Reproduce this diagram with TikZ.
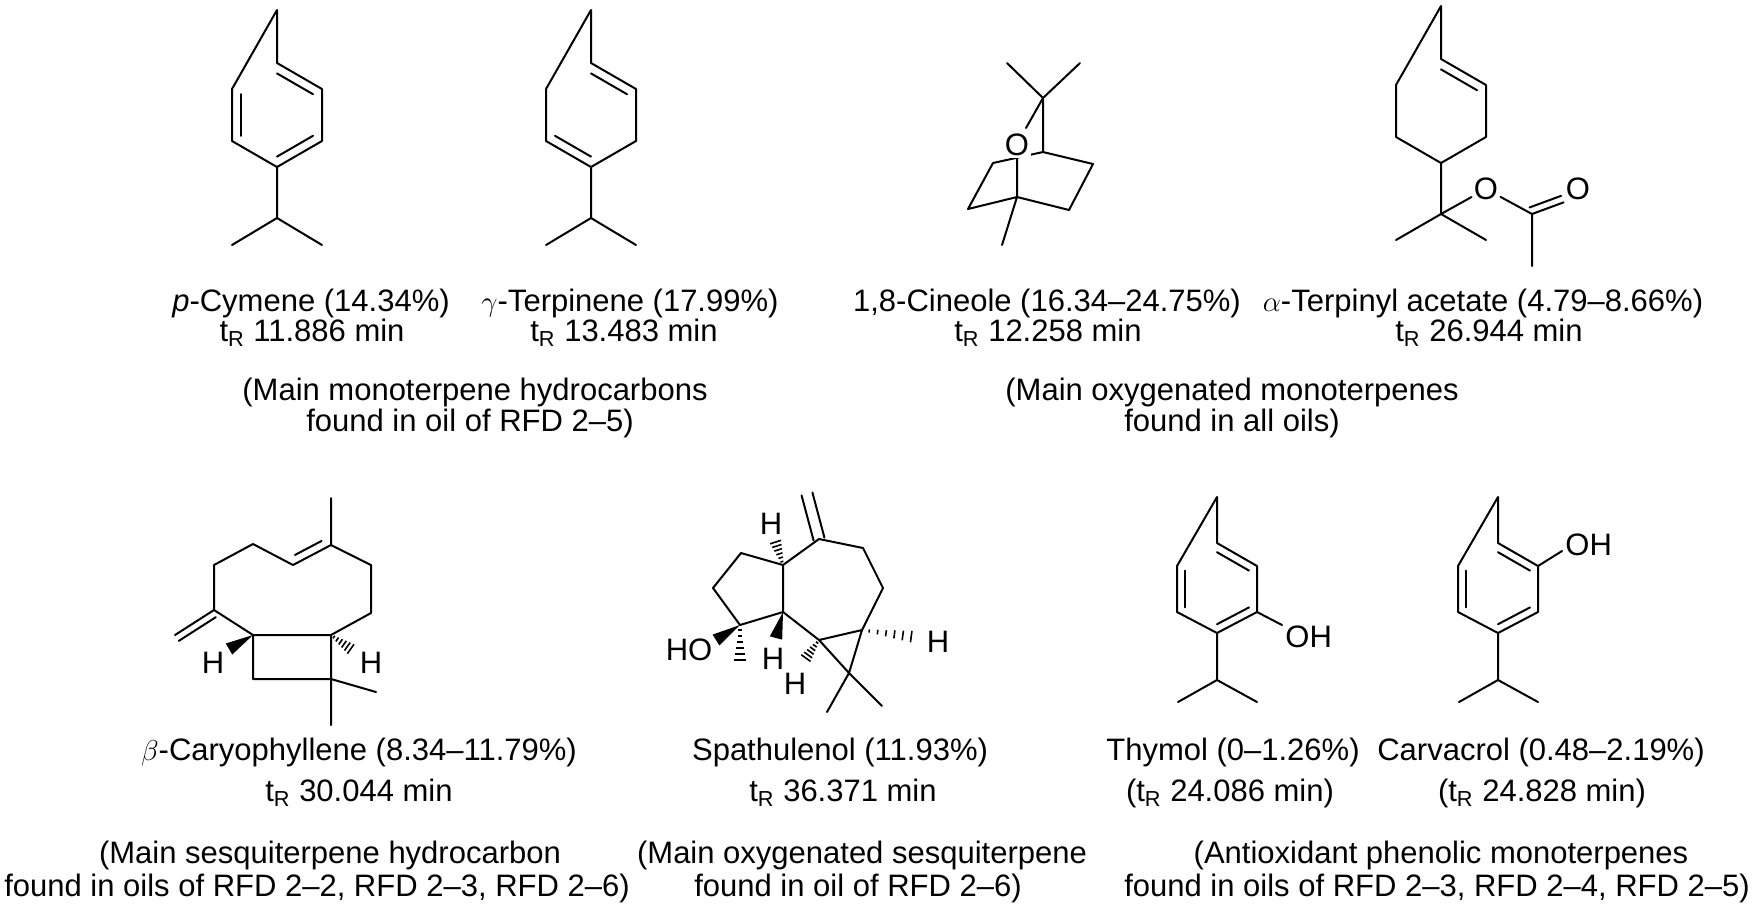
\documentclass[tikz,border=0pt]{standalone}
\usepackage{fontspec}
\setmainfont{Liberation Sans}
\usetikzlibrary{calc}
\tikzset{
  bond/.style={line width=1pt, line cap=round, line join=round},
  lbl/.style={font=\fontsize{15.5}{18}\selectfont, inner sep=0pt},
  atom/.style={font=\fontsize{15.5}{18}\selectfont, inner sep=1pt, fill=white},
}
\newcommand{\innerbond}[3]{\draw[bond] ($(#1)!0.2!(#3)$) -- ($(#2)!0.2!(#3)$);}
\newcommand{\dblside}[3]{\draw[bond] ($(#1)!0.15!(#2)!#3!90:(#2)$) -- ($(#2)!0.15!(#1)!#3!-90:(#1)$);}
\newcommand{\wedgebond}[2]{\fill ($(#1)$) -- ($(#2)!3.2pt!90:(#1)$) -- ($(#2)!3.2pt!-90:(#1)$) -- cycle;}
\newcommand{\hashbond}[2]{\foreach \t in {0.12,0.26,...,0.95}{\pgfmathsetmacro{\hl}{0.4+3*\t}\draw[line width=0.8pt] ($(#1)!\t!(#2)!\hl pt!90:(#2)$) -- ($(#1)!\t!(#2)!\hl pt!-90:(#2)$);}}
\begin{document}
\begin{tikzpicture}[x=0.5pt,y=-0.5pt]
\useasboundingbox (0,0) rectangle (1755,923);
% ---------- p-cymene
\begin{scope}[shift={(277,0)}]
\coordinate (cm0) at (0,10); \coordinate (c1) at (0,63); \coordinate (c2) at (45,89);
\coordinate (c3) at (45,141); \coordinate (c4) at (0,167); \coordinate (c5) at (-45,141);
\coordinate (c6) at (-45,89); \coordinate (cc) at (0,115); \coordinate (cb) at (0,218);
\coordinate (cl) at (-45,245); \coordinate (cr) at (45,245);
\end{scope}
\draw[bond] (cm0)--(c1)--(c2)--(c3)--(c4)--(c5)--(c6)--cycle (c4)--(cb)--(cl) (cb)--(cr);
\innerbond{c1}{c2}{cc}\innerbond{c3}{c4}{cc}\innerbond{c5}{c6}{cc}
% ---------- gamma-terpinene
\begin{scope}[shift={(591,0)}]
\coordinate (t0) at (0,10); \coordinate (t1) at (0,63); \coordinate (t2) at (45,89);
\coordinate (t3) at (45,141); \coordinate (t4) at (0,167); \coordinate (t5) at (-45,141);
\coordinate (t6) at (-45,89); \coordinate (tc) at (0,115); \coordinate (tb) at (0,218);
\coordinate (tl) at (-45,245); \coordinate (tr) at (45,245);
\end{scope}
\draw[bond] (t0)--(t1)--(t2)--(t3)--(t4)--(t5)--(t6)--cycle (t4)--(tb)--(tl) (tb)--(tr);
\innerbond{t1}{t2}{tc}\innerbond{t4}{t5}{tc}
% ---------- 1,8-cineole
\coordinate (n1) at (1007,63); \coordinate (n2) at (1080,63); \coordinate (nq) at (1043,98);
\coordinate (nh1) at (1043,152); \coordinate (nr1) at (1093,164); \coordinate (nr2) at (1069,210);
\coordinate (nh2) at (1017,197); \coordinate (nl2) at (968,209); \coordinate (nl1) at (993,163);
\coordinate (nme) at (1002,245);
\draw[bond] (n1)--(nq)--(n2) (nq)--(nh1)--(nr1)--(nr2)--(nh2)--(nl2)--(nl1)--(nh1) (nh2)--(nme) (nh2)--(1017,150) (nq)--(1026,128);
\node[atom] (nO) at (1017,145) {O};
% ---------- alpha-terpinyl acetate
\begin{scope}[shift={(1441,0)}]
\coordinate (a0) at (0,6); \coordinate (a1) at (0,59); \coordinate (a2) at (45,85);
\coordinate (a3) at (45,137); \coordinate (a4) at (0,163); \coordinate (a5) at (-45,137);
\coordinate (a6) at (-45,85); \coordinate (ac) at (0,111); \coordinate (aq) at (0,214);
\coordinate (al) at (-45,240); \coordinate (ar) at (45,240);
\coordinate (aC) at (91,214); \coordinate (aMe) at (91,266);
\end{scope}
\node[atom,fill=none] (aO) at (1486,189) {O};
\node[atom,fill=none] (aO2) at (1578,189) {O};
\draw[bond] (a0)--(a1)--(a2)--(a3)--(a4)--(a5)--(a6)--cycle (a4)--(aq)--(al) (aq)--(ar);
\innerbond{a1}{a2}{ac}
\draw[bond] (aq)--(aO) (aO)--(aC) (aC)--(aMe) (aC)--(aO2.south west);
\draw[bond] ($(aC)!3.5pt!90:(aO2.south west)$) -- ($(aO2.south west)!3.5pt!-90:(aC)$);
% ---------- labels top
\node[lbl] (l1) at (311,303) {\textit{p}-Cymene (14.34\%)};
\node[lbl] (l2) at (312,333) {t\textsubscript{R} 11.886 min};
\node[lbl] (l3) at (630,303) {$\gamma$-Terpinene (17.99\%)};
\node[lbl] (l4) at (624,333) {t\textsubscript{R} 13.483 min};
\node[lbl] (l5) at (475,392) {(Main monoterpene hydrocarbons};
\node[lbl] (l6) at (470,423) {found in oil of RFD 2--5)};
\node[lbl] (l7) at (1047,303) {1,8-Cineole (16.34--24.75\%)};
\node[lbl] (l8) at (1048,333) {t\textsubscript{R} 12.258 min};
\node[lbl] (l9) at (1483,303) {$\alpha$-Terpinyl acetate (4.79--8.66\%)};
\node[lbl] (l10) at (1489,333) {t\textsubscript{R} 26.944 min};
\node[lbl] (l11) at (1232,392) {(Main oxygenated monoterpenes};
\node[lbl] (l12) at (1232,423) {found in all oils)};
% ---------- beta-caryophyllene
\coordinate (k0) at (331,498); \coordinate (k1) at (331,545); \coordinate (k2) at (293,565);
\coordinate (k3) at (253,544); \coordinate (k4) at (214,565); \coordinate (k5) at (214,610);
\coordinate (kx) at (175,635); \coordinate (kL) at (253,635); \coordinate (kR) at (331,635);
\coordinate (k9) at (371,613); \coordinate (k10) at (371,565);
\coordinate (kbL) at (253,679); \coordinate (kbR) at (331,679);
\coordinate (km1) at (376,692); \coordinate (km2) at (331,725);
\draw[bond] (k0)--(k1)--(k2)--(k3)--(k4)--(k5)--(kL)--(kR)--(k9)--(k10)--(k1) (kL)--(kbL)--(kbR)--(kR) (kbR)--(km1) (kbR)--(km2) (k5)--(kx);
\draw[bond] ($(k1)!0.15!(k2)!4pt!-90:(k2)$) -- ($(k2)!0.15!(k1)!4pt!90:(k1)$);
\draw[bond] ($(k5)!0.05!(kx)!3.5pt!90:(kx)$) -- ($(kx)!0!(k5)!3.5pt!-90:(k5)$);
\coordinate (kHl) at (229,649); \coordinate (kHr) at (355,652);
\wedgebond{kL}{kHl}
\hashbond{kR}{kHr}
\node[atom,fill=none] (kH1) at (213,663) {H};
\node[atom,fill=none] (kH2) at (371,663) {H};
% ---------- spathulenol
\coordinate (sA) at (783,565); \coordinate (sT) at (741,553); \coordinate (sL) at (713,588);
\coordinate (sO) at (740,625); \coordinate (sB) at (783,612); \coordinate (sX) at (819,539);
\coordinate (sXe) at (807,494); \coordinate (s8) at (863,548); \coordinate (s9) at (883,588);
\coordinate (sCb) at (862,630); \coordinate (sCa) at (819,640); \coordinate (sCc) at (849,673);
\coordinate (sm1) at (827,712); \coordinate (sm2) at (882,706);
\draw[bond] (sA)--(sT)--(sL)--(sO)--(sB)--(sA)--(sX)--(s8)--(s9)--(sCb)--(sCa)--(sB) (sCa)--(sCc)--(sCb) (sCc)--(sm1) (sCc)--(sm2);
\draw[bond] ($(sX)!2.8pt!90:(sXe)$) -- ($(sXe)!2.8pt!-90:(sX)$);
\draw[bond] ($(sX)!2.8pt!-90:(sXe)$) -- ($(sXe)!2.8pt!90:(sX)$);
\coordinate (sHa) at (774,537); \coordinate (sMe) at (740,668); \coordinate (sHo) at (716,640);
\coordinate (sHb) at (776,638); \coordinate (sHc) at (803,662); \coordinate (sHd) at (922,638);
\hashbond{sA}{sHa}
\hashbond{sO}{sMe}
\hashbond{sCa}{sHc}
\hashbond{sCb}{sHd}
\wedgebond{sO}{sHo}
\wedgebond{sB}{sHb}
\node[atom,fill=none] (sH1) at (771,524) {H};
\node[atom,fill=none] (sHO) at (689,650) {HO};
\node[atom,fill=none] (sH2) at (773,659) {H};
\node[atom,fill=none] (sH3) at (795,684) {H};
\node[atom,fill=none] (sH4) at (938,642) {H};
% ---------- thymol
\begin{scope}[shift={(1217,480)}]
\coordinate (h0) at (0,17); \coordinate (h1) at (0,63); \coordinate (h2) at (40,86);
\coordinate (h3) at (40,132); \coordinate (h4) at (0,153); \coordinate (h5) at (-40,132);
\coordinate (h6) at (-40,86); \coordinate (hc) at (0,109); \coordinate (hb) at (0,200);
\coordinate (hl) at (-39,222); \coordinate (hr) at (40,222); \coordinate (hoh) at (65,145);
\end{scope}
\draw[bond] (h0)--(h1)--(h2)--(h3)--(h4)--(h5)--(h6)--cycle (h4)--(hb)--(hl) (hb)--(hr) (h3)--(hoh);
\innerbond{h1}{h2}{hc}\innerbond{h3}{h4}{hc}\innerbond{h5}{h6}{hc}
\node[atom,fill=none,anchor=west] (hOH) at (1283,637) {OH};
% ---------- carvacrol
\begin{scope}[shift={(1498,480)}]
\coordinate (v0) at (0,17); \coordinate (v1) at (0,63); \coordinate (v2) at (40,86);
\coordinate (v3) at (40,132); \coordinate (v4) at (0,153); \coordinate (v5) at (-40,132);
\coordinate (v6) at (-40,86); \coordinate (vc) at (0,109); \coordinate (vb) at (0,200);
\coordinate (vl) at (-39,222); \coordinate (vr) at (40,222); \coordinate (voh) at (64,71);
\end{scope}
\draw[bond] (v0)--(v1)--(v2)--(v3)--(v4)--(v5)--(v6)--cycle (v4)--(vb)--(vl) (vb)--(vr) (v2)--(voh);
\innerbond{v1}{v2}{vc}\innerbond{v3}{v4}{vc}\innerbond{v5}{v6}{vc}
\node[atom,fill=none,anchor=west] (vOH) at (1563,545) {OH};
% ---------- labels bottom
\node[lbl] (b1) at (359,752) {$\beta$-Caryophyllene (8.34--11.79\%)};
\node[lbl] (b2) at (359,793) {t\textsubscript{R} 30.044 min};
\node[lbl] (b3) at (330,855) {(Main sesquiterpene hydrocarbon};
\node[lbl] (b4) at (317,888) {found in oils of RFD 2--2, RFD 2--3, RFD 2--6)};
\node[lbl] (b5) at (840,752) {Spathulenol (11.93\%)};
\node[lbl] (b6) at (843,793) {t\textsubscript{R} 36.371 min};
\node[lbl] (b7) at (862,855) {(Main oxygenated sesquiterpene};
\node[lbl] (b8) at (858,888) {found in oil of RFD 2--6)};
\node[lbl] (b9) at (1233,752) {Thymol (0--1.26\%)};
\node[lbl] (b10) at (1230,793) {(t\textsubscript{R} 24.086 min)};
\node[lbl] (b11) at (1541,752) {Carvacrol (0.48--2.19\%)};
\node[lbl] (b12) at (1542,793) {(t\textsubscript{R} 24.828 min)};
\node[lbl] (b13) at (1441,855) {(Antioxidant phenolic monoterpenes};
\node[lbl] (b14) at (1437,888) {found in oils of RFD 2--3, RFD 2--4, RFD 2--5)};
\end{tikzpicture}
\end{document}
